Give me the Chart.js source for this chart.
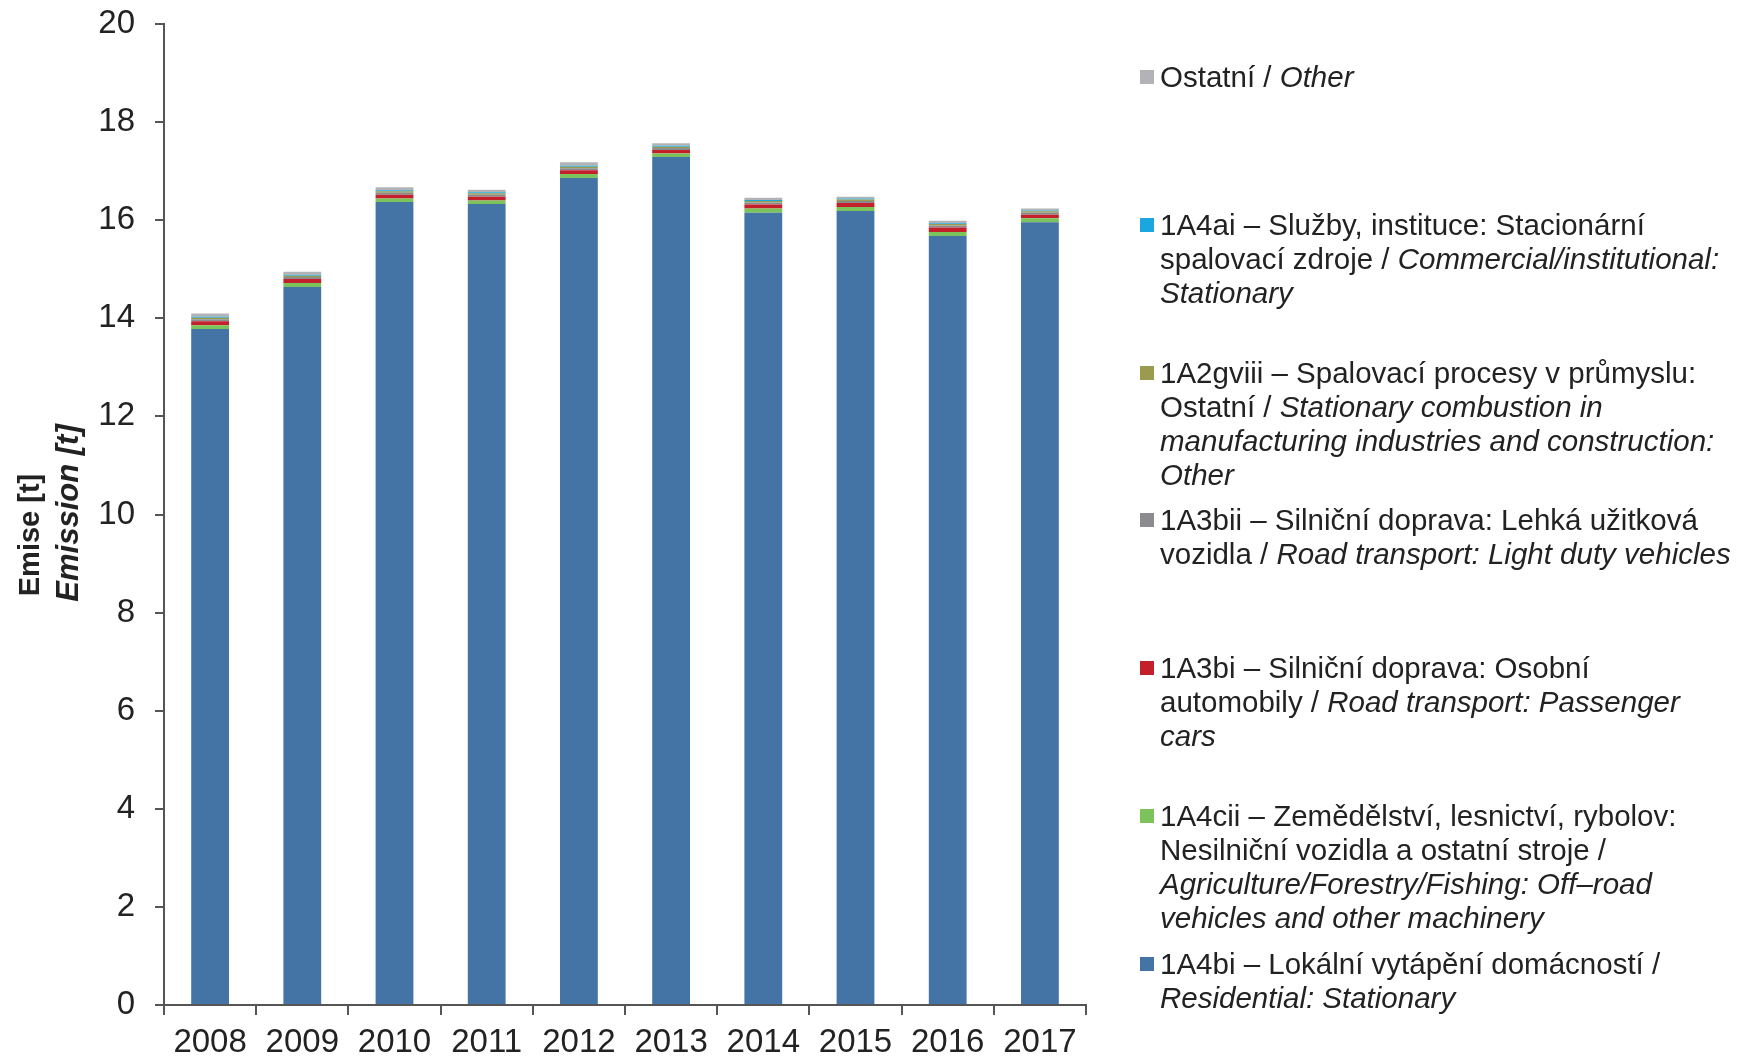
<!DOCTYPE html>
<html>
<head>
<meta charset="utf-8">
<script src="https://cdn.jsdelivr.net/npm/chart.js@4"></script>
<style>
  html, body { margin: 0; padding: 0; background: #fff; }
  #wrap { position: relative; width: 1737px; height: 1058px; }
  #chart { position: absolute; left: 0; top: 0; }
  #legend { position: absolute; left: 1137px; top: 60px; font-family: "Liberation Sans", Arial, sans-serif; font-size: 29.5px; color: #222; }
  .item { position: absolute; left: 0; white-space: nowrap; line-height: 34px; }
  .box { position: absolute; left: 3px; top: 10px; width: 14px; height: 14px; }
  .txt { position: absolute; left: 23px; top: 0; }
</style>
</head>
<body>
<div id="wrap">
  <canvas id="chart" width="1737" height="1058"></canvas>
  <div id="legend"></div>
</div>
<script>
const years = ['2008', '2009', '2010', '2011', '2012', '2013', '2014', '2015', '2016', '2017'];

// stack order from the bottom up
const residential = [13.78, 14.64, 16.37, 16.33, 16.86, 17.29, 16.15, 16.19, 15.68, 15.96]; // 1A4bi
const agriculture = [0.08, 0.08, 0.07, 0.07, 0.08, 0.07, 0.09, 0.08, 0.08, 0.08];        // 1A4cii
const passengerCars = [0.08, 0.08, 0.08, 0.08, 0.08, 0.07, 0.08, 0.08, 0.09, 0.07];      // 1A3bi
const lightDuty = [0.04, 0.04, 0.04, 0.04, 0.04, 0.04, 0.04, 0.04, 0.04, 0.04];          // 1A3bii
const industry = [0.03, 0.03, 0.03, 0.03, 0.03, 0.03, 0.03, 0.03, 0.03, 0.03];           // 1A2gviii
const commercial = [0.02, 0.02, 0.02, 0.02, 0.02, 0.02, 0.02, 0.02, 0.02, 0.02];         // 1A4ai
const other = [0.07, 0.06, 0.06, 0.05, 0.07, 0.05, 0.05, 0.04, 0.05, 0.04];              // Ostatni

const yTicks = [0, 2, 4, 6, 8, 10, 12, 14, 16, 18, 20];

const seriesNames = ['1A4bi', '1A4cii', '1A3bi', '1A3bii', '1A2gviii', '1A4ai', 'Ostatní'];
const seriesColors = ['#4474a6', '#7dc35b', '#c3202b', '#8c8c90', '#9b9b50', '#1aa6df', '#b3b3b7'];
const seriesData = [residential, agriculture, passengerCars, lightDuty, industry, commercial, other];

// legend text, line by line, same order as the series
const legendLines = [
  ['1A4bi – Lokální vytápění domácností /', '<i>Residential: Stationary</i>'],
  ['1A4cii – Zemědělství, lesnictví, rybolov:', 'Nesilniční vozidla a ostatní stroje /', '<i>Agriculture/Forestry/Fishing: Off–road</i>', '<i>vehicles and other machinery</i>'],
  ['1A3bi – Silniční doprava: Osobní', 'automobily / <i>Road transport: Passenger</i>', '<i>cars</i>'],
  ['1A3bii – Silniční doprava: Lehká užitková', 'vozidla / <i>Road transport: Light duty vehicles</i>'],
  ['1A2gviii – Spalovací procesy v průmyslu:', 'Ostatní / <i>Stationary combustion in</i>', '<i>manufacturing industries and construction:</i>', '<i>Other</i>'],
  ['1A4ai – Služby, instituce: Stacionární', 'spalovací zdroje / <i>Commercial/institutional:</i>', '<i>Stationary</i>'],
  ['Ostatní / <i>Other</i>']
];

const FONT = '"Liberation Sans", Arial, sans-serif';
const NARROW = '"Liberation Sans Narrow", "Arial Narrow", "Liberation Sans", sans-serif';
const AXIS = '#555';

const datasets = seriesNames.map((name, i) => ({
  label: name,
  data: seriesData[i],
  backgroundColor: seriesColors[i],
  borderWidth: 0,
  categoryPercentage: 1.0,
  barPercentage: 0.41
}));

// y axis title: two lines, second one italic
const yTitle = {
  id: 'yTitle',
  afterDraw(chart) {
    const ctx = chart.ctx;
    ctx.save();
    ctx.fillStyle = '#222';
    ctx.textAlign = 'center';
    ctx.textBaseline = 'middle';
    ctx.translate(31, 535);
    ctx.rotate(-Math.PI / 2);
    ctx.font = 'bold 29px ' + NARROW;
    ctx.fillText('Emise [t]', 0, 0);
    ctx.restore();
    ctx.save();
    ctx.fillStyle = '#222';
    ctx.textAlign = 'center';
    ctx.textBaseline = 'middle';
    ctx.translate(69, 513);
    ctx.rotate(-Math.PI / 2);
    ctx.font = 'italic bold 31px ' + FONT;
    ctx.fillText('Emission [t]', 0, 0);
    ctx.restore();
  }
};

new Chart(document.getElementById('chart'), {
  type: 'bar',
  data: { labels: years, datasets: datasets },
  plugins: [yTitle],
  options: {
    responsive: false,
    animation: false,
    layout: { padding: { top: 24, right: 651, left: 0, bottom: 0 } },
    plugins: { legend: { display: false }, tooltip: { enabled: false } },
    scales: {
      x: {
        stacked: true,
        offset: true,
        grid: { offset: true, drawOnChartArea: false, tickLength: 10, color: AXIS, lineWidth: 2 },
        border: { color: AXIS, width: 2 },
        ticks: { color: '#222', font: { family: FONT, size: 33 }, padding: 8, maxRotation: 0 },
        afterFit: (s) => { s.height = 53; s.paddingLeft = 0; s.paddingRight = 0; }
      },
      y: {
        stacked: true,
        min: 0,
        max: 20,
        afterBuildTicks: (s) => { s.ticks = yTicks.map(v => ({ value: v })); },
        grid: { drawOnChartArea: false, tickLength: 9, color: AXIS, lineWidth: 2 },
        border: { color: AXIS, width: 2 },
        ticks: { color: '#222', font: { family: FONT, size: 33 }, padding: 20 },
        afterFit: (s) => { s.width = 164; s.paddingTop = 0; s.paddingBottom = 0; }
      }
    }
  }
});

// html legend, top entry is the top of the stack
const legendEl = document.getElementById('legend');
const order = seriesNames.map((_, i) => i).reverse();
order.forEach((idx, pos) => {
  const item = document.createElement('div');
  item.className = 'item';
  item.style.top = (pos * 147.8) + 'px';
  item.innerHTML = '<div class="box" style="background:' + seriesColors[idx] + '"></div>' +
    '<div class="txt">' + legendLines[idx].join('<br>') + '</div>';
  legendEl.appendChild(item);
});
</script>
</body>
</html>
